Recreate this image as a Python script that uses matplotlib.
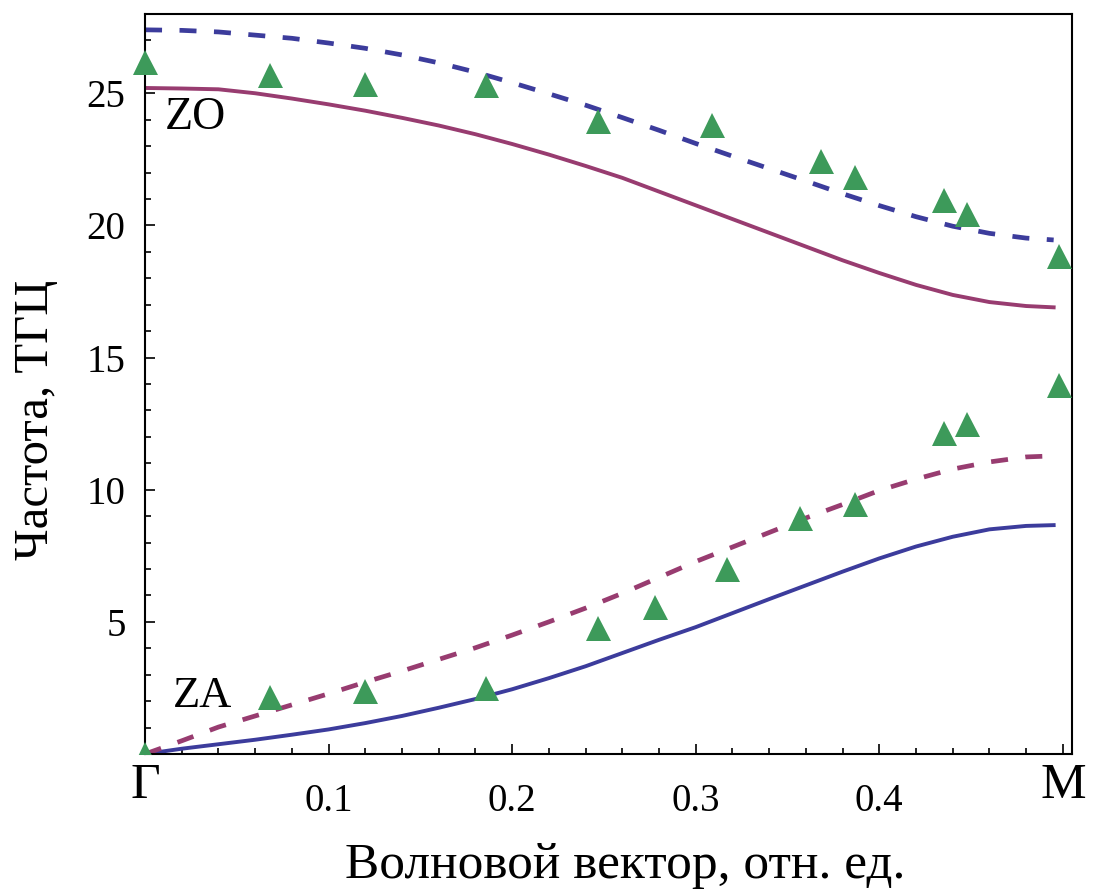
import numpy as np
import matplotlib.pyplot as plt
from matplotlib.patches import Rectangle

plt.rcParams['font.family'] = ['Liberation Serif', 'DejaVu Serif']

# теоретические кривые (волновой вектор, отн. ед.)
k = [0.0, 0.02, 0.04, 0.06, 0.08, 0.10, 0.12, 0.14, 0.16, 0.18, 0.20, 0.22, 0.24,
     0.26, 0.28, 0.30, 0.32, 0.34, 0.36, 0.38, 0.40, 0.42, 0.44, 0.46, 0.48, 0.495]

zo_solid = [25.2, 25.18, 25.15, 25.0, 24.8, 24.58, 24.34, 24.07, 23.78, 23.45, 23.08, 22.68, 22.25,
            21.8, 21.28, 20.76, 20.24, 19.72, 19.2, 18.68, 18.2, 17.75, 17.37, 17.1, 16.95, 16.9]
zo_dash = [27.4, 27.38, 27.32, 27.2, 27.08, 26.9, 26.7, 26.45, 26.15, 25.8, 25.4, 24.98, 24.55,
           24.08, 23.6, 23.1, 22.62, 22.15, 21.68, 21.2, 20.75, 20.33, 19.97, 19.7, 19.52, 19.45]
za_solid = [0.0, 0.2, 0.37, 0.54, 0.73, 0.93, 1.17, 1.44, 1.75, 2.08, 2.45, 2.87, 3.32,
            3.82, 4.32, 4.8, 5.33, 5.86, 6.38, 6.9, 7.4, 7.85, 8.22, 8.5, 8.63, 8.66]
za_dash = [0.0, 0.5, 1.02, 1.44, 1.86, 2.28, 2.72, 3.14, 3.58, 4.02, 4.5, 5.0, 5.52,
           6.08, 6.68, 7.28, 7.83, 8.38, 8.93, 9.44, 9.97, 10.4, 10.78, 11.05, 11.24, 11.28]

# эксперимент
k_zo = [0.0, 0.068, 0.12, 0.186, 0.247, 0.309, 0.368, 0.387, 0.435, 0.448, 0.498]
f_zo = [26.2, 25.7, 25.35, 25.3, 23.95, 23.8, 22.45, 21.85, 20.95, 20.45, 18.85]
k_za = [0.0, 0.068, 0.12, 0.186, 0.247, 0.278, 0.317, 0.357, 0.387, 0.435, 0.448, 0.498]
f_za = [0.0, 2.15, 2.4, 2.5, 4.78, 5.56, 7.0, 8.93, 9.45, 12.15, 12.5, 13.95]

blue = '#3c3c9c'
purple = '#983c70'
green = '#3d9a5a'

fig = plt.figure(figsize=(10.93, 8.9), dpi=100)
ax = fig.add_axes([0.1327, 0.1528, 0.8481, 0.8315])

ax.plot(k, zo_solid, color=purple, lw=2.8)
ax.plot(k, zo_dash, color=blue, lw=3.4, dashes=(3.6, 3.7))
ax.plot(k, za_solid, color=blue, lw=2.8)
ax.plot(k, za_dash, color=purple, lw=3.4, dashes=(3.6, 3.7))

clip = Rectangle((-0.05, 0), 1.1, 1.0, transform=ax.transAxes)
for kk, ff in [(k_zo, f_zo), (k_za, f_za)]:
    m, = ax.plot(kk, ff, '^', color=green, ms=18, mew=0, zorder=5)
    m.set_clip_path(clip)

ax.text(0.011, 24.06, 'ZO', fontsize=33, va='center')
ax.text(0.015, 2.2, 'ZA', fontsize=32, va='center')

ax.set_xlim(0, 0.505)
ax.set_ylim(0, 28)
ax.set_xticks([0, 0.1, 0.2, 0.3, 0.4, 0.5])
ax.set_xticklabels(['Γ', '0.1', '0.2', '0.3', '0.4', 'M'])
ax.set_xticks(np.arange(0, 0.5, 0.02), minor=True)
ax.set_yticks([5, 10, 15, 20, 25])
ax.set_yticks(np.arange(1, 28, 1), minor=True)

ax.tick_params(which='both', direction='in', top=False, right=False, width=1.2)
ax.tick_params(which='major', length=7, labelsize=28)
ax.tick_params(which='minor', length=4)
ax.tick_params(axis='y', pad=14)
for i, t in enumerate(ax.xaxis.get_major_ticks()):
    if i in (0, 5):
        t.label1.set_fontsize(37)
        t.set_pad(6)
    else:
        t.set_pad(21)
for s in ax.spines.values():
    s.set_linewidth(1.5)

ax.set_xlabel('Волновой вектор, отн. ед.', fontsize=37)
ax.set_ylabel('Частота, ТГЦ', fontsize=35)
ax.xaxis.set_label_coords(0.518, -0.12)
ax.yaxis.set_label_coords(-0.094, 0.451)

fig.savefig('out.png', dpi=100)
